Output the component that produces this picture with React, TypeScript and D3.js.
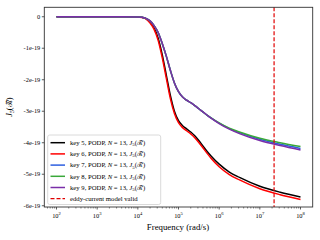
import React from 'react';
import * as d3 from 'd3';

// frequencies (rad/s) and J5 values in units of 1e-19
const freq = [
	100, 1000, 1e4, 1.26e4, 1.58e4, 2e4, 2.51e4, 3.16e4, 3.98e4, 5.01e4, 6.31e4,
	7.94e4, 1e5, 1.26e5, 1.58e5, 2e5, 2.51e5, 3.16e5, 3.98e5, 5.01e5, 6.31e5, 1e6,
	1.78e6, 3.16e6, 1e7, 3.16e7, 1e8,
];
const key5 = [
	0, 0, -0.005, -0.02, -0.06, -0.17, -0.35, -0.68, -1.2, -1.85, -2.5, -3.0,
	-3.3, -3.46, -3.56, -3.66, -3.78, -3.93, -4.1, -4.27, -4.42, -4.68, -4.93,
	-5.1, -5.38, -5.57, -5.72,
];
const key6 = [
	0, 0, -0.005, -0.022, -0.07, -0.2, -0.4, -0.75, -1.3, -1.95, -2.6, -3.07,
	-3.36, -3.52, -3.62, -3.72, -3.84, -3.99, -4.16, -4.33, -4.49, -4.76, -5.01,
	-5.18, -5.46, -5.65, -5.8,
];
const key7 = [
	0, 0, -0.005, -0.015, -0.05, -0.13, -0.28, -0.5, -0.85, -1.25, -1.7, -2.1,
	-2.38, -2.55, -2.65, -2.73, -2.82, -2.92, -3.02, -3.12, -3.21, -3.38, -3.55,
	-3.68, -3.89, -4.05, -4.18,
];
const key8 = [
	0, 0, -0.005, -0.015, -0.05, -0.13, -0.28, -0.5, -0.85, -1.25, -1.7, -2.1,
	-2.38, -2.55, -2.65, -2.73, -2.82, -2.92, -3.02, -3.12, -3.21, -3.37, -3.54,
	-3.66, -3.86, -4.0, -4.12,
];
const key9 = [
	0, 0, -0.005, -0.015, -0.05, -0.13, -0.28, -0.5, -0.85, -1.25, -1.7, -2.1,
	-2.38, -2.55, -2.65, -2.73, -2.82, -2.92, -3.02, -3.12, -3.22, -3.39, -3.57,
	-3.71, -3.93, -4.09, -4.23,
];
const seriesKeys = ['5', '6', '7', '8', '9'];
const seriesColors = ['#000000', '#ff0000', '#2d5fe0', '#3aa83a', '#7a2ea8'];
const series = [key5, key6, key7, key8, key9];
const validLimit = 2.24e7;

const yTicks = [0, -1, -2, -3, -4, -5, -6];
const yTickLabels = ['0', '-1e-19', '-2e-19', '-3e-19', '-4e-19', '-5e-19', '-6e-19'];
const xMajor = [1e2, 1e3, 1e4, 1e5, 1e6, 1e7, 1e8];

const margin = { top: 7.3, right: 7.3, bottom: 33, left: 44.3 };
const W = 320;
const H = 240;
const font = 'Liberation Serif, DejaVu Serif, serif';

const App = () => {
	const x = d3
		.scaleLog()
		.domain([Math.pow(10, 1.7), Math.pow(10, 8.3)])
		.range([margin.left, W - margin.right]);
	const y = d3
		.scaleLinear()
		.domain([-6.04, 0.3])
		.range([H - margin.bottom, margin.top]);

	const line = d3
		.line<number>()
		.x((d, i) => x(freq[i]))
		.y((d) => y(d))
		.curve(d3.curveMonotoneX);

	const minor = x.ticks().filter((t) => !xMajor.some((m) => Math.abs(m - t) / m < 1e-6));
	const y0 = H - margin.bottom;

	const legendX = 47.7;
	const legendY = 135;
	const rowH = 11.2;

	return (
		<svg
			width={W}
			height={H}
			style={{ position: 'absolute', left: 0, top: 0, background: '#fff' }}
			fontFamily={font}
		>
			{/* data */}
			<g fill="none" strokeWidth={1.5}>
				{series.map((s, i) => (
					<path key={i} d={line(s) || ''} stroke={seriesColors[i]} />
				))}
			</g>
			<line
				x1={x(validLimit)}
				x2={x(validLimit)}
				y1={margin.top}
				y2={y0}
				stroke="#e00000"
				strokeWidth={1.2}
				strokeDasharray="4,2"
			/>

			{/* spines */}
			<rect
				x={margin.left}
				y={margin.top}
				width={W - margin.left - margin.right}
				height={y0 - margin.top}
				fill="none"
				stroke="#333"
				strokeWidth={0.9}
			/>

			{/* y axis */}
			{yTicks.map((t, i) => (
				<g key={t}>
					<line x1={margin.left - 2.5} x2={margin.left} y1={y(t)} y2={y(t)} stroke="#333" strokeWidth={0.8} />
					<text x={margin.left - 4} y={y(t)} dy="0.33em" textAnchor="end" fontSize={6.4}>
						{yTickLabels[i]}
					</text>
				</g>
			))}

			{/* x axis */}
			{minor.map((t, i) => (
				<line key={'m' + i} x1={x(t)} x2={x(t)} y1={y0} y2={y0 + 1.5} stroke="#333" strokeWidth={0.6} />
			))}
			{xMajor.map((t) => (
				<g key={t}>
					<line x1={x(t)} x2={x(t)} y1={y0} y2={y0 + 2.5} stroke="#333" strokeWidth={0.8} />
					<text x={x(t)} y={y0 + 11} textAnchor="middle" fontSize={6.4}>
						10
						<tspan fontSize={4.6} dy={-3}>
							{Math.round(Math.log10(t))}
						</tspan>
					</text>
				</g>
			))}
			<text x={178} y={230} textAnchor="middle" fontSize={8.8}>
				Frequency (rad/s)
			</text>
			<text transform={`translate(12,${(margin.top + y0) / 2}) rotate(-90)`} textAnchor="middle" fontSize={8.4}>
				<tspan fontStyle="italic">J</tspan>
				<tspan fontSize={5.8} dy={2}>5</tspan>
				<tspan dy={-2}>({'\u211B\u0303'})</tspan>
			</text>

			{/* legend */}
			<rect
				x={legendX}
				y={legendY}
				width={113}
				height={69.5}
				rx={2}
				fill="#fff"
				fillOpacity={0.8}
				stroke="#d0d0d0"
				strokeWidth={0.8}
			/>
			{seriesKeys.map((k, i) => {
				const ry = legendY + 7.7 + i * rowH;
				return (
					<g key={k}>
						<line x1={50.5} x2={65} y1={ry} y2={ry} stroke={seriesColors[i]} strokeWidth={1.5} />
						<text x={70} y={ry} dy="0.33em" fontSize={6.7}>
							{`key ${k}, PODP, `}
							<tspan fontStyle="italic">N</tspan>
							{' = 13, '}
							<tspan fontStyle="italic">J</tspan>
							<tspan fontSize={4.8} dy={1.2}>5</tspan>
							<tspan dy={-1.2}>({'\u211B\u0303'})</tspan>
						</text>
					</g>
				);
			})}
			<line
				x1={50.5}
				x2={65}
				y1={legendY + 7.7 + 5 * rowH}
				y2={legendY + 7.7 + 5 * rowH}
				stroke="#e00000"
				strokeWidth={1.2}
				strokeDasharray="4,2"
			/>
			<text x={70} y={legendY + 7.7 + 5 * rowH} dy="0.33em" fontSize={6.7}>
				eddy-current model valid
			</text>
		</svg>
	);
};

export default App;
